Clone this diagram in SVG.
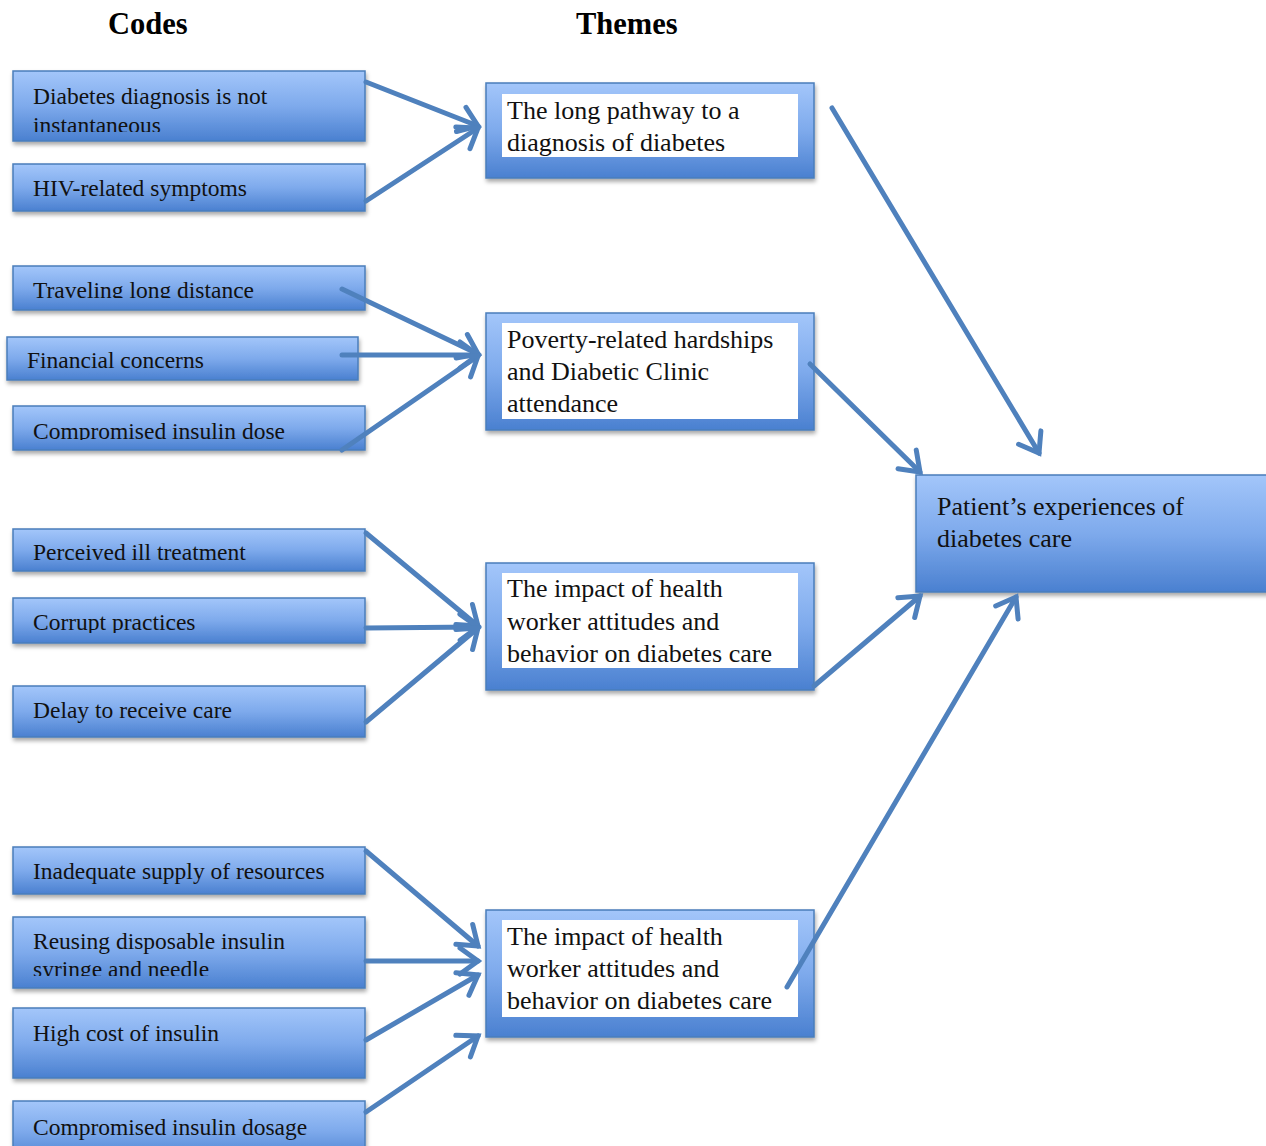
<svg xmlns="http://www.w3.org/2000/svg" width="1266" height="1146" viewBox="0 0 1266 1146">
<style>
.box{fill:url(#g);stroke:#4a7ebb;stroke-width:1.5;filter:url(#sh)}
.inner{fill:#fff}
.t{font-family:"Liberation Serif","Times New Roman",serif;font-size:23.5px;fill:#111}
.tt{font-family:"Liberation Serif","Times New Roman",serif;font-size:26px;fill:#111}
.h{font-family:"Liberation Serif","Times New Roman",serif;font-size:30.5px;font-weight:bold;fill:#000}
.c{fill:none;stroke:#4f81bd;stroke-width:5;stroke-linecap:round;marker-end:url(#arr)}
</style>
<defs>
<linearGradient id="g" x1="0" y1="0" x2="0" y2="1">
<stop offset="0" stop-color="#a3c6fa"/>
<stop offset="0.5" stop-color="#7eaaec"/>
<stop offset="1" stop-color="#4a80d0"/>
</linearGradient>
<filter id="sh" x="-5%" y="-10%" width="110%" height="130%">
<feDropShadow dx="1" dy="3" stdDeviation="2" flood-color="#000" flood-opacity="0.35"/>
</filter>
<marker id="arr" viewBox="-24 -16 30 32" refX="0" refY="0" markerWidth="30" markerHeight="32" markerUnits="userSpaceOnUse" orient="auto">
<path d="M-18,-13 L0,0 L-18,13" fill="none" stroke="#4f81bd" stroke-width="5" stroke-linecap="round" stroke-linejoin="miter"/>
</marker>
<clipPath id="cl1"><rect x="0" y="60" width="400" height="72"/></clipPath>
<clipPath id="cl3"><rect x="0" y="260" width="400" height="38"/></clipPath>
<clipPath id="cl5"><rect x="0" y="400" width="400" height="40"/></clipPath>
<clipPath id="cl7"><rect x="0" y="590" width="400" height="43"/></clipPath>
<clipPath id="cl10"><rect x="0" y="910" width="400" height="66"/></clipPath>
</defs>
<rect width="1266" height="1146" fill="#fff"/>

<text class="h" x="108" y="34">Codes</text>
<text class="h" x="576" y="34">Themes</text>

<g id="code1"><rect class="box" x="13" y="71" width="352" height="70"/><g clip-path="url(#cl1)"><text class="t" x="33" y="104">Diabetes diagnosis is not</text><text class="t" x="33" y="133">instantaneous</text></g></g>
<g id="code2"><rect class="box" x="13" y="164" width="352" height="47"/><text class="t" x="33" y="196">HIV-related symptoms</text></g>
<g id="code3"><rect class="box" x="13" y="266" width="352" height="44"/><g clip-path="url(#cl3)"><text class="t" x="33" y="298">Traveling long distance</text></g></g>
<g id="code4"><rect class="box" x="7" y="337" width="351" height="43"/><text class="t" x="27" y="368">Financial concerns</text></g>
<g id="code5"><rect class="box" x="13" y="406" width="352" height="44"/><g clip-path="url(#cl5)"><text class="t" x="33" y="439">Compromised insulin dose</text></g></g>
<g id="code6"><rect class="box" x="13" y="529" width="352" height="42"/><text class="t" x="33" y="560">Perceived ill treatment</text></g>
<g id="code7"><rect class="box" x="13" y="598" width="352" height="45"/><g clip-path="url(#cl7)"><text class="t" x="33" y="630">Corrupt practices</text></g></g>
<g id="code8"><rect class="box" x="13" y="686" width="352" height="51"/><text class="t" x="33" y="718">Delay to receive care</text></g>
<g id="code9"><rect class="box" x="13" y="847" width="352" height="47"/><text class="t" x="33" y="879">Inadequate supply of resources</text></g>
<g id="code10"><rect class="box" x="13" y="917" width="352" height="71"/><g clip-path="url(#cl10)"><text class="t" x="33" y="949">Reusing disposable insulin</text><text class="t" x="33" y="977">syringe and needle</text></g></g>
<g id="code11"><rect class="box" x="13" y="1008" width="352" height="70"/><text class="t" x="33" y="1041">High cost of insulin</text></g>
<g id="code12"><rect class="box" x="13" y="1101" width="352" height="60"/><text class="t" x="33" y="1135">Compromised insulin dosage</text></g>

<g id="theme1"><rect class="box" x="486" y="83" width="328" height="95"/><rect class="inner" x="502" y="94" width="296" height="63"/><text class="tt" x="507" y="119">The long pathway to a</text><text class="tt" x="507" y="151">diagnosis of diabetes</text></g>
<g id="theme2"><rect class="box" x="486" y="313" width="328" height="117"/><rect class="inner" x="502" y="323" width="296" height="96"/><text class="tt" x="507" y="348">Poverty-related hardships</text><text class="tt" x="507" y="380">and Diabetic Clinic</text><text class="tt" x="507" y="412">attendance</text></g>
<g id="theme3"><rect class="box" x="486" y="563" width="328" height="127"/><rect class="inner" x="502" y="573" width="296" height="95"/><text class="tt" x="507" y="597">The impact of health</text><text class="tt" x="507" y="630">worker attitudes and</text><text class="tt" x="507" y="662">behavior on diabetes care</text></g>
<g id="theme4"><rect class="box" x="486" y="910" width="328" height="127"/><rect class="inner" x="502" y="920" width="296" height="97"/><text class="tt" x="507" y="945">The impact of health</text><text class="tt" x="507" y="977">worker attitudes and</text><text class="tt" x="507" y="1009">behavior on diabetes care</text></g>

<g id="main"><rect class="box" x="916" y="475" width="360" height="117"/><text class="tt" x="937" y="515">Patient’s experiences of</text><text class="tt" x="937" y="547">diabetes care</text></g>

<g id="connectors">
<line class="c" x1="366" y1="82" x2="478" y2="126"/>
<line class="c" x1="366" y1="201" x2="478" y2="128"/>
<line class="c" x1="342" y1="289" x2="478" y2="354"/>
<line class="c" x1="342" y1="355" x2="478" y2="355"/>
<line class="c" x1="342" y1="450" x2="478" y2="356"/>
<line class="c" x1="366" y1="533" x2="478" y2="626"/>
<line class="c" x1="366" y1="628" x2="478" y2="627"/>
<line class="c" x1="366" y1="722" x2="478" y2="628"/>
<line class="c" x1="366" y1="851" x2="478" y2="946"/>
<line class="c" x1="366" y1="961" x2="478" y2="961"/>
<line class="c" x1="366" y1="1040" x2="478" y2="975"/>
<line class="c" x1="366" y1="1112" x2="478" y2="1036"/>
<line class="c" x1="832" y1="108" x2="1039" y2="453"/>
<line class="c" x1="810" y1="364" x2="920" y2="472"/>
<line class="c" x1="814" y1="686" x2="920" y2="596"/>
<line class="c" x1="787" y1="987" x2="1016" y2="597"/>
</g>
</svg>
